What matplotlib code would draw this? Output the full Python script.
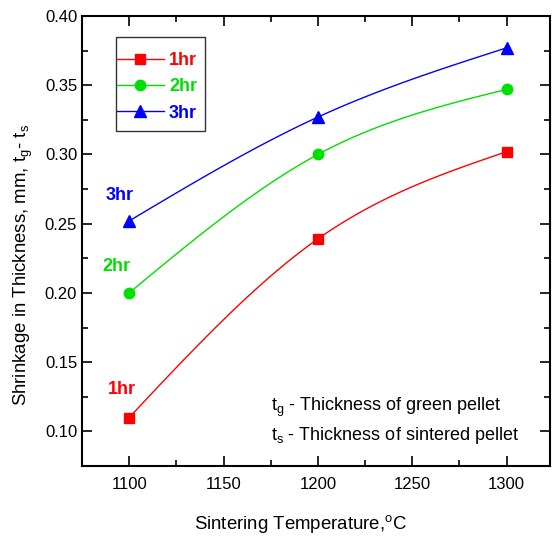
import numpy as np
import matplotlib
matplotlib.use("Agg")
import matplotlib.pyplot as plt
from matplotlib.ticker import MultipleLocator, FormatStrFormatter
from matplotlib.patches import Rectangle

plt.rcParams['font.family'] = ['Liberation Sans', 'DejaVu Sans']
plt.rcParams['mathtext.fontset'] = 'custom'
plt.rcParams['mathtext.rm'] = 'Liberation Sans'
plt.rcParams['mathtext.it'] = 'Liberation Sans'

temps = [1100, 1200, 1300]
shrink_1hr = [0.110, 0.239, 0.302]
shrink_2hr = [0.200, 0.300, 0.347]
shrink_3hr = [0.252, 0.327, 0.377]
labels = ['1hr', '2hr', '3hr']

series = [
    (shrink_1hr, '#ff0000', 's', 7),
    (shrink_2hr, '#00e000', 'o', 7.5),
    (shrink_3hr, '#0000ff', '^', 8),
]


def natural_spline(x, y, n=60):
    # natural cubic spline through the points (smooth line like Origin)
    x = np.asarray(x, float)
    y = np.asarray(y, float)
    h = np.diff(x)
    m = len(x)
    A = np.zeros((m, m))
    r = np.zeros(m)
    A[0, 0] = A[-1, -1] = 1
    for i in range(1, m - 1):
        A[i, i - 1] = h[i - 1]
        A[i, i] = 2 * (h[i - 1] + h[i])
        A[i, i + 1] = h[i]
        r[i] = 6 * ((y[i + 1] - y[i]) / h[i] - (y[i] - y[i - 1]) / h[i - 1])
    M = np.linalg.solve(A, r)
    xs, ys = [], []
    for i in range(m - 1):
        t = np.linspace(x[i], x[i + 1], n)
        s = (M[i] * (x[i + 1] - t) ** 3 / (6 * h[i]) + M[i + 1] * (t - x[i]) ** 3 / (6 * h[i])
             + (y[i] / h[i] - M[i] * h[i] / 6) * (x[i + 1] - t)
             + (y[i + 1] / h[i] - M[i + 1] * h[i] / 6) * (t - x[i]))
        xs.append(t)
        ys.append(s)
    return np.concatenate(xs), np.concatenate(ys)


fig = plt.figure(figsize=(5.53, 5.36), dpi=100)
ax = fig.add_axes([82 / 553, 1 - 466 / 536, (550 - 82) / 553, (466 - 16) / 536])

handles = []
for (vals, col, mk, ms), lab in zip(series, labels):
    sx, sy = natural_spline(temps, vals)
    ax.plot(sx, sy, color=col, lw=1)
    ax.plot(temps, vals, ls='none', marker=mk, ms=ms, color=col)
    h, = ax.plot([], [], color=col, lw=1, marker=mk, ms=ms)
    handles.append(h)

# legend box drawn separately (Origin style: tall box, tight sides)
ax.add_patch(Rectangle((0.0726, 0.744), 0.190, 0.209, transform=ax.transAxes,
                       fill=False, edgecolor='#333333', lw=1.0, zorder=5))
leg = ax.legend(handles, labels, loc='upper left', bbox_to_anchor=(0.074, 0.919),
                borderaxespad=0, frameon=False, handlelength=2.6, borderpad=0,
                labelspacing=0.5, handletextpad=0.3,
                prop={'size': 13, 'weight': 'bold'})
for t, (vals, col, mk, ms) in zip(leg.get_texts(), series):
    t.set_color(col)

ax.text(1095, 0.270, '3hr', color='#0000ff', fontsize=13, fontweight='bold', ha='center', va='center')
ax.text(1093, 0.219, '2hr', color='#00e000', fontsize=13, fontweight='bold', ha='center', va='center')
ax.text(1096, 0.130, '1hr', color='#ff0000', fontsize=13, fontweight='bold', ha='center', va='center')

ax.text(1175, 0.117, r'$\mathregular{t_g}$ - Thickness of green pellet', fontsize=13, ha='left', va='center')
ax.text(1175, 0.097, r'$\mathregular{t_s}$ - Thickness of sintered pellet', fontsize=13, ha='left', va='center')

ax.set_xlim(1075, 1323)
ax.set_ylim(0.075, 0.40)
ax.xaxis.set_major_locator(MultipleLocator(50))
ax.xaxis.set_minor_locator(MultipleLocator(25))
ax.yaxis.set_major_locator(MultipleLocator(0.05))
ax.yaxis.set_minor_locator(MultipleLocator(0.025))
ax.xaxis.set_major_formatter(FormatStrFormatter('%d'))
ax.yaxis.set_major_formatter(FormatStrFormatter('%.2f'))
ax.tick_params(which='both', direction='in', top=True, right=True, width=1.2, labelsize=12)
ax.tick_params(which='major', length=7)
ax.tick_params(which='minor', length=4)
ax.tick_params(axis='x', pad=8)
for s in ax.spines.values():
    s.set_linewidth(1.5)

ax.set_xlabel(r'Sintering Temperature,$\mathregular{^oC}$', fontsize=13.4)
ax.xaxis.set_label_coords(0.466, -0.105)
ax.set_ylabel(r'Shrinkage in Thickness, mm, $\mathregular{t_g}$- $\mathregular{t_s}$', fontsize=13.4)
ax.yaxis.set_label_coords(-0.10, 0.447)

fig.savefig('out.png', dpi=100)
